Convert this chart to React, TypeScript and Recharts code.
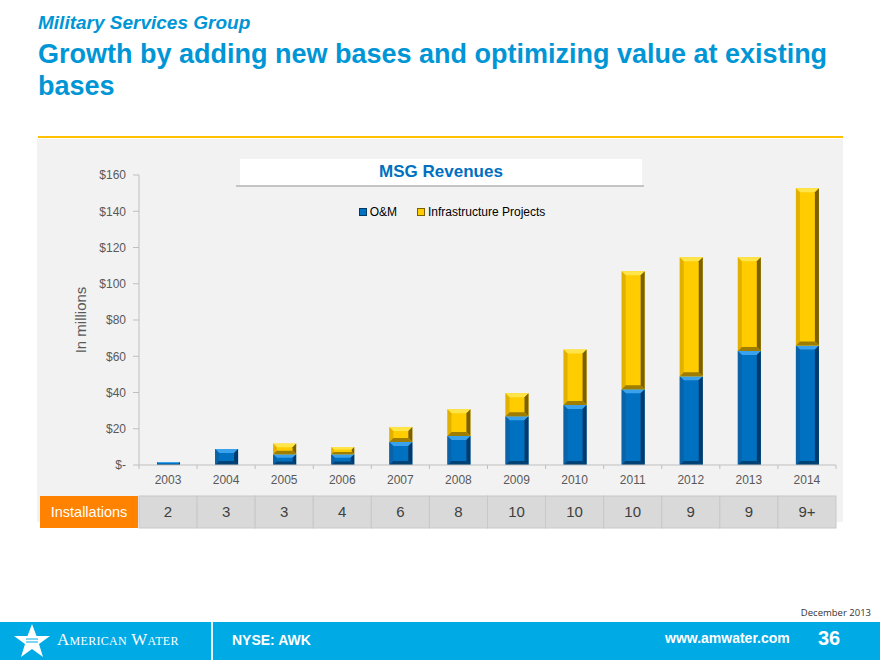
import React from 'react';
import { BarChart, Bar, XAxis, YAxis, Legend } from 'recharts';

const YEARS = ['2003', '2004', '2005', '2006', '2007', '2008', '2009', '2010', '2011', '2012', '2013', '2014'];
const OM = [1.6, 8.8, 5.9, 5.9, 12.7, 16.0, 26.9, 33.1, 41.8, 48.9, 62.9, 65.9];
const INFRA = [0, 0, 5.9, 4.0, 8.3, 14.7, 12.7, 30.6, 65.1, 65.7, 51.7, 86.8];
const INSTALLATIONS = ['2', '3', '3', '4', '6', '8', '10', '10', '10', '9', '9', '9+'];
const Y_TICKS = [0, 20, 40, 60, 80, 100, 120, 140, 160];
const SERIES_ORDER = ['om', 'infra'];

const data = YEARS.map((year, i) => ({ year, om: OM[i], infra: INFRA[i] }));

const FONT = '"Liberation Sans", Arial, Helvetica, sans-serif';
const CHART_W = 880;
const CHART_H = 540;
const MARGIN = { top: 175, right: 44, left: 30, bottom: 11 };
const Y_AXIS_W = 109;
const BAND = (CHART_W - MARGIN.left - MARGIN.right - Y_AXIS_W) / YEARS.length;

const BLUE = { main: '#0070C0', top: '#3AA2EC', left: '#0A63A8', right: '#003A6A', bottom: '#004275' };
const GOLD = { main: '#FFCC00', top: '#FFE54A', left: '#E2B000', right: '#7A6000', bottom: '#9E7D00' };

// bar with a bevelled edge, like the old Excel 3D look
const bevel = (c: typeof BLUE) => (props: any) => {
    const { x, y, width, height } = props;
    if (!height || height <= 0) return <g />;
    const b = Math.min(4, height / 3, width / 4);
    const x2 = x + width;
    const y2 = y + height;
    return (
        <g>
            <rect x={x} y={y} width={width} height={height} fill={c.main} />
            <polygon points={`${x},${y} ${x2},${y} ${x2 - b},${y + b} ${x + b},${y + b}`} fill={c.top} />
            <polygon points={`${x},${y} ${x + b},${y + b} ${x + b},${y2 - b} ${x},${y2}`} fill={c.left} />
            <polygon points={`${x2},${y} ${x2},${y2} ${x2 - b},${y2 - b} ${x2 - b},${y + b}`} fill={c.right} />
            <polygon points={`${x},${y2} ${x2},${y2} ${x2 - b},${y2 - b} ${x + b},${y2 - b}`} fill={c.bottom} />
        </g>
    );
};

const YearTick = (props: any) => {
    const { x, y, payload, index } = props;
    const h = BAND / 2;
    return (
        <g>
            <line x1={x - h} x2={x - h} y1={y} y2={y + 4} stroke="#BFBFBF" />
            {index === YEARS.length - 1 && <line x1={x + h} x2={x + h} y1={y} y2={y + 4} stroke="#BFBFBF" />}
            <text x={x} y={y + 19} textAnchor="middle" fontSize={12} fill="#595959">{payload.value}</text>
        </g>
    );
};

const InstallTick = (props: any) => {
    const { x, y, index } = props;
    const h = BAND / 2;
    return (
        <g>
            {index === 0 && (
                <g>
                    <rect x={x - h - 99} y={y + 1} width={98} height={32} fill="#FF8200" />
                    <text x={x - h - 50} y={y + 22} textAnchor="middle" fontSize={14.5} fill="#ffffff">Installations</text>
                </g>
            )}
            <rect x={x - h} y={y + 1} width={BAND} height={32} fill="#D9D9D9" stroke="#C8C8C8" strokeWidth={1} />
            <text x={x} y={y + 22} textAnchor="middle" fontSize={15} fill="#404040">{INSTALLATIONS[index]}</text>
        </g>
    );
};

const LegendContent = (props: any) => {
    const items = [...(props.payload || [])].sort(
        (a: any, b: any) => SERIES_ORDER.indexOf(a.dataKey) - SERIES_ORDER.indexOf(b.dataKey)
    );
    return (
        <div style={{ display: 'flex', justifyContent: 'center', gap: 20, fontSize: 12, color: '#000' }}>
            {items.map((entry: any) => (
                <span key={entry.value} style={{ display: 'flex', alignItems: 'center' }}>
                    <span
                        style={{
                            display: 'inline-block',
                            width: 6,
                            height: 6,
                            background: entry.color,
                            border: '1px solid ' + (entry.dataKey === 'om' ? BLUE.right : GOLD.right),
                            marginRight: 3,
                        }}
                    />
                    {entry.value}
                </span>
            ))}
        </div>
    );
};

const Star = () => (
    <svg width={40} height={36} viewBox="0 0 40 36" style={{ position: 'absolute', left: 12, top: 623 }}>
        <polygon points="20,1 24.5,13 38,13 27,21 31,34 20,26 9,34 13,21 2,13 15.5,13" fill="#ffffff" />
        <line x1={14} x2={26} y1={16} y2={16} stroke="#00AAE4" strokeWidth={1} />
        <line x1={14} x2={26} y1={19} y2={19} stroke="#00AAE4" strokeWidth={1} />
    </svg>
);

export default function App() {
    return (
        <div style={{ position: 'fixed', left: 0, top: 0, width: 880, height: 660, background: '#fff', overflow: 'hidden', fontFamily: FONT }}>
            <div style={{ position: 'absolute', left: 38, top: 12, fontSize: 19, fontWeight: 'bold', fontStyle: 'italic', color: '#0096D6' }}>
                Military Services Group
            </div>
            <div style={{ position: 'absolute', left: 38, top: 38, width: 820, fontSize: 27, lineHeight: '32px', fontWeight: 'bold', color: '#0096D6' }}>
                Growth by adding new bases and optimizing value at existing bases
            </div>
            <div style={{ position: 'absolute', left: 38, top: 136, width: 805, height: 2, background: '#FFC000' }} />
            <div style={{ position: 'absolute', left: 37, top: 139, width: 806, height: 383, background: '#F2F2F2' }} />
            <div style={{ position: 'absolute', left: 236, top: 185, width: 408, height: 2, background: '#C4C4C4' }} />
            <div
                style={{
                    position: 'absolute', left: 240, top: 159, width: 402, height: 26, background: '#fff',
                    textAlign: 'center', fontSize: 17, fontWeight: 'bold', color: '#0070C0', lineHeight: '26px',
                }}
            >
                MSG Revenues
            </div>
            <div style={{ position: 'absolute', left: 0, top: 0 }}>
                <BarChart width={CHART_W} height={CHART_H} data={data} margin={MARGIN} barSize={23}>
                    <YAxis
                        width={Y_AXIS_W}
                        domain={[0, 160]}
                        ticks={Y_TICKS}
                        interval={0}
                        tickFormatter={(v: number) => (v === 0 ? '$-' : `$${v}`)}
                        tick={{ fill: '#595959', fontSize: 12 }}
                        axisLine={{ stroke: '#BFBFBF' }}
                        tickLine={{ stroke: '#BFBFBF' }}
                        tickSize={6}
                        tickMargin={7}
                        label={{ value: 'In millions', angle: -90, position: 'insideLeft', offset: 51, style: { textAnchor: 'middle', fill: '#595959', fontSize: 15 } }}
                    />
                    <XAxis
                        dataKey="year"
                        xAxisId={0}
                        height={30}
                        axisLine={{ stroke: '#BFBFBF' }}
                        tickLine={false}
                        tickSize={0}
                        tickMargin={0}
                        interval={0}
                        tick={<YearTick />}
                    />
                    <XAxis
                        dataKey="year"
                        xAxisId="inst"
                        height={34}
                        axisLine={false}
                        tickLine={false}
                        tickSize={0}
                        tickMargin={0}
                        interval={0}
                        tick={<InstallTick />}
                    />
                    <Legend
                        verticalAlign="middle"
                        align="center"
                        content={<LegendContent />}
                        wrapperStyle={{ top: 205, left: 352, width: 200 }}
                    />
                    <Bar dataKey="om" name="O&M" stackId="a" fill={BLUE.main} shape={bevel(BLUE)} isAnimationActive={false} />
                    <Bar dataKey="infra" name="Infrastructure Projects" stackId="a" fill={GOLD.main} shape={bevel(GOLD)} isAnimationActive={false} />
                </BarChart>
            </div>
            <div style={{ position: 'absolute', right: 9, top: 606, fontSize: 9.5, color: '#333', fontFamily: '"Open Sans", sans-serif' }}>
                December 2013
            </div>
            <div style={{ position: 'absolute', left: 0, top: 622, width: 880, height: 38, background: '#00AAE4' }} />
            <Star />
            <div style={{ position: 'absolute', left: 57, top: 630, fontSize: 17, color: '#fff', fontVariant: 'small-caps', fontFamily: '"Liberation Serif", serif', letterSpacing: 0.3 }}>
                American Water
            </div>
            <div style={{ position: 'absolute', left: 211, top: 622, width: 2, height: 38, background: '#E6F6FC' }} />
            <div style={{ position: 'absolute', left: 232, top: 632, fontSize: 14, fontWeight: 'bold', color: '#fff' }}>NYSE: AWK</div>
            <div style={{ position: 'absolute', left: 665, top: 630, fontSize: 14, fontWeight: 'bold', color: '#fff' }}>www.amwater.com</div>
            <div style={{ position: 'absolute', left: 818, top: 627, fontSize: 20, fontWeight: 'bold', color: '#fff' }}>36</div>
        </div>
    );
}
